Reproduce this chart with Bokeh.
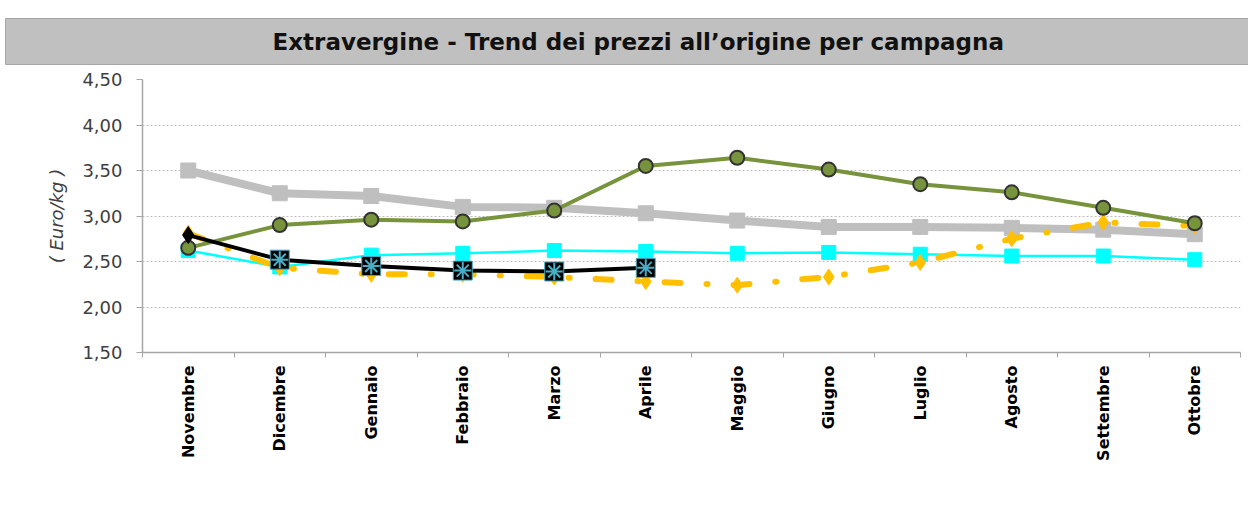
import math
from bokeh.plotting import figure
from bokeh.models import (ColumnDataSource, FixedTicker, Legend, LegendItem, Range1d)
from bokeh.embed import file_html
from bokeh.resources import INLINE

# ---------------- data ----------------
months = ["Novembre", "Dicembre", "Gennaio", "Febbraio", "Marzo", "Aprile",
          "Maggio", "Giugno", "Luglio", "Agosto", "Settembre", "Ottobre"]
series_names = ["2007/08", "2008/09", "2009/10", "2010/11", "2011/12"]
s0708 = [3.50, 3.25, 3.22, 3.10, 3.09, 3.03, 2.95, 2.88, 2.88, 2.87, 2.85, 2.80]
s0809 = [2.81, 2.43, 2.36, 2.36, 2.33, 2.28, 2.24, 2.33, 2.49, 2.75, 2.93, 2.89]
s0910 = [2.62, 2.44, 2.57, 2.59, 2.62, 2.61, 2.59, 2.60, 2.58, 2.56, 2.56, 2.52]
s1011 = [2.65, 2.90, 2.96, 2.94, 3.06, 3.55, 3.64, 3.51, 3.35, 3.26, 3.09, 2.92]
s1112 = [2.79, 2.52, 2.45, 2.40, 2.39, 2.43]
y_ticks = [1.5, 2.0, 2.5, 3.0, 3.5, 4.0, 4.5]
y_tick_labels = ["1,50", "2,00", "2,50", "3,00", "3,50", "4,00", "4,50"]
title_text = "Extravergine - Trend dei prezzi all\u2019origine per campagna"
y_title = "( Euro/kg )"

FONT = "DejaVu Sans"

# x positions: category centres on a 0..N scale
xc = [i + 0.5 for i in range(len(months))]
xb = [i for i in range(len(months) + 1)]

p = figure(frame_width=1098, frame_height=273, x_range=Range1d(0, len(months)),
           y_range=Range1d(y_ticks[0], y_ticks[-1]),
           toolbar_location=None, output_backend="svg",
           min_border_left=142, min_border_right=8, min_border_top=79,
           min_border_bottom=0)
p.outline_line_color = None
p.background_fill_color = "white"
p.border_fill_color = "white"
p.xgrid.visible = False
p.ygrid.ticker = FixedTicker(ticks=y_ticks)
p.ygrid.grid_line_color = "#BFBFBF"
p.ygrid.grid_line_dash = "2 2"
p.ygrid.grid_line_width = 1

# title in a grey band
p.title.text = title_text
p.title.align = "left"
p.title.offset = -137
p.title.text_font = FONT
p.title.text_font_style = "bold"
p.title.text_font_size = "23px"
p.title.text_color = "#111111"
p.title.background_fill_color = "#C0C0C0"
p.title.border_line_color = "#A6A6A6"
p.title.padding = dict(left=267, right=245, top=10, bottom=10)
p.title.standoff = 30

# x axis
xa = p.xaxis[0]
xa.ticker = FixedTicker(ticks=xc, minor_ticks=xb)
xa.major_label_overrides = {x: m for x, m in zip(xc, months)}
xa.major_tick_out = 0
xa.major_tick_in = 0
xa.minor_tick_out = 5
xa.minor_tick_in = 0
xa.minor_tick_line_color = "#A6A6A6"
xa.axis_line_color = "#A6A6A6"
xa.axis_line_width = 1.5
xa.major_label_orientation = math.pi / 2
xa.major_label_standoff = 8
xa.major_label_text_font = FONT
xa.major_label_text_font_style = "bold"
xa.major_label_text_font_size = "16px"
xa.major_label_text_color = "#000000"

# y axis
ya = p.yaxis[0]
ya.ticker = FixedTicker(ticks=y_ticks)
ya.major_label_overrides = {v: s for v, s in zip(y_ticks, y_tick_labels)}
ya.minor_tick_out = 0
ya.minor_tick_in = 0
ya.major_tick_out = 6
ya.major_tick_in = 0
ya.major_tick_line_color = "#A6A6A6"
ya.axis_line_color = "#A6A6A6"
ya.axis_line_width = 1.5
ya.major_label_standoff = 14
ya.major_label_text_font = FONT
ya.major_label_text_font_size = "18px"
ya.major_label_text_color = "#404040"
ya.axis_label = y_title
ya.axis_label_standoff = 12
ya.axis_label_text_font = FONT
ya.axis_label_text_font_style = "italic"
ya.axis_label_text_font_size = "18px"
ya.axis_label_text_color = "#404040"

GRAY, YELLOW, CYAN, GREEN, BLACK, BLUE = "#BFBFBF", "#FFC000", "#00FFFF", "#77933C", "#000000", "#4BACC6"

src0708 = ColumnDataSource(dict(x=xc, y=s0708))
src0809 = ColumnDataSource(dict(x=xc, y=s0809))
src0910 = ColumnDataSource(dict(x=xc, y=s0910))
src1011 = ColumnDataSource(dict(x=xc, y=s1011))
src1112 = ColumnDataSource(dict(x=xc[:len(s1112)], y=s1112))

# 2007/08 gray
p.line("x", "y", source=src0708, line_color=GRAY, line_width=8, line_join="round")
p.scatter("x", "y", source=src0708, marker="square", size=15, fill_color=GRAY, line_color=GRAY)
# 2009/10 cyan
p.line("x", "y", source=src0910, line_color=CYAN, line_width=2.5)
p.scatter("x", "y", source=src0910, marker="square", size=14, fill_color=CYAN, line_color=CYAN)
# 2008/09 yellow dash-dot
p.line("x", "y", source=src0809, line_color=YELLOW, line_width=6, line_dash="16 26 1 26",
       line_cap="round", line_join="round")
p.scatter("x", "y", source=src0809, marker="diamond", size=16, fill_color=YELLOW, line_color=YELLOW)
# 2010/11 green
p.line("x", "y", source=src1011, line_color=GREEN, line_width=4)
p.scatter("x", "y", source=src1011, marker="circle", size=14, fill_color=GREEN,
          line_color="#333333", line_width=2)
# 2011/12 black: first point a diamond, the rest squares with an asterisk
p.line("x", "y", source=src1112, line_color=BLACK, line_width=4)
p.scatter(xc[:1], s1112[:1], marker="diamond", size=17, fill_color=BLACK, line_color=BLACK)
p.scatter(xc[1:len(s1112)], s1112[1:], marker="square", size=19, fill_color=BLACK,
          line_color=BLUE, line_width=1)
p.scatter(xc[1:len(s1112)], s1112[1:], marker="asterisk", size=17, line_color=BLUE, line_width=2)

# legend samples (thin lines, as in the reference)
leg_styles = [
    dict(color=GRAY, dash="solid"),
    dict(color=YELLOW, dash="14 10 2 10"),
    dict(color=CYAN, dash="solid"),
    dict(color=GREEN, dash="solid"),
    dict(color=BLACK, dash="solid"),
]
items = []
for name, st in zip(series_names, leg_styles):
    r1 = p.line([], [], line_color=st["color"], line_width=3, line_dash=st["dash"])
    items.append(LegendItem(label=name, renderers=[r1]))

legend = Legend(items=items, orientation="horizontal", location="top_left",
                glyph_width=65, glyph_height=8, label_text_font=FONT,
                label_text_font_size="7px", label_standoff=4, spacing=92,
                padding=0, margin=45, border_line_color=None,
                background_fill_alpha=0, label_height=8)
p.add_layout(legend, "below")

open("out.html", "w").write(file_html(p, INLINE))
